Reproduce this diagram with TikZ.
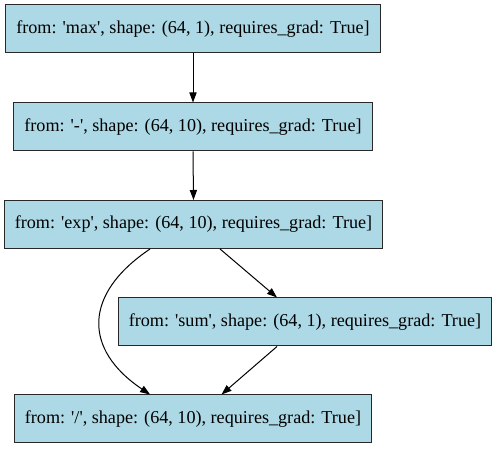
\documentclass[tikz,border=0pt]{standalone}
\usepackage{fontspec}
\setmainfont{Liberation Serif}
\usepackage{xcolor}
\usepackage{tikz}
\usetikzlibrary{arrows.meta, positioning, calc}
\definecolor{gvblue}{RGB}{173, 216, 230}
\definecolor{gvedge}{RGB}{40, 40, 40}
\newcommand{\sq}{\textquotesingle}

\begin{document}
\begin{tikzpicture}[x=0.75pt, y=0.75pt,
  op/.style={rectangle, fill=gvblue, draw=gvedge, line width=0.75pt,
    font=\fontsize{13.6pt}{16pt}\selectfont,
    minimum height=36pt, inner xsep=8pt, text centered},
  arr/.style={-{Triangle[length=7.5pt, width=5.4pt]}, line width=0.75pt, color=black}
]
\useasboundingbox (0,0) rectangle (497,449);
% Graph nodes, top to bottom
\node[op] at (193, 420) (max) {from: \sq max\sq, shape: (64, 1), requires\_grad: True]};
\node[op] at (193, 322) (sub) {from: \sq-\sq, shape: (64, 10), requires\_grad: True]};
\node[op] at (193.5, 224.5) (exp) {from: \sq exp\sq, shape: (64, 10), requires\_grad: True]};
\node[op] at (305, 127) (sum) {from: \sq sum\sq, shape: (64, 1), requires\_grad: True]};
\node[op] at (193, 30) (div) {from: \sq/\sq, shape: (64, 10), requires\_grad: True]};
% Edges
\draw[arr] (max.south) -- (sub.north);
\draw[arr] (sub.south) -- (exp.north);
\draw[arr] ([xshift=19.9pt]exp.south) -- ([xshift=-21pt]sum.north);
\draw[arr] ([xshift=-21pt]sum.south) -- ([xshift=21.4pt]div.north);
\draw[arr] ([xshift=-32.6pt]exp.south) .. controls +(-67,-45) and +(-67,45) .. ([xshift=-32.2pt]div.north);
\end{tikzpicture}
\end{document}
